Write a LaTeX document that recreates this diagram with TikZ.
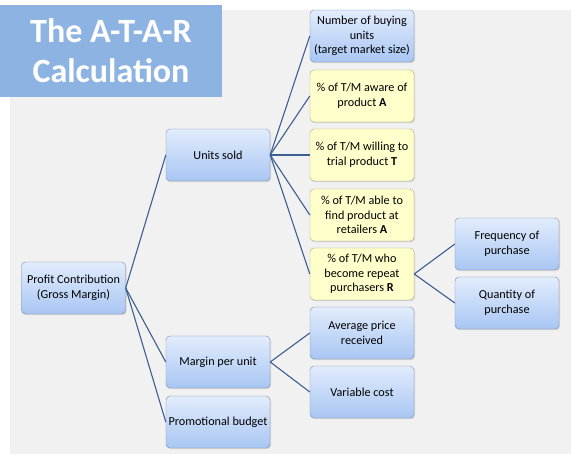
\documentclass[tikz,border=0pt]{standalone}
\usepackage{fontspec}
\setmainfont{Carlito}
\usepackage{tikz}
\usetikzlibrary{shadows}
\usepackage{xcolor}
\definecolor{panelgray}{RGB}{241,241,241}
\definecolor{titleblue}{RGB}{141,179,226}
\definecolor{boxtop}{RGB}{226,236,252}
\definecolor{boxbot}{RGB}{168,198,243}
\definecolor{boxline}{RGB}{120,140,170}
\definecolor{noteyellow}{RGB}{255,255,204}
\definecolor{noteline}{RGB}{170,170,130}
\definecolor{linkblue}{RGB}{60,95,145}

\begin{document}
\begin{tikzpicture}[x=1pt, y=-1pt,
  font=\fontsize{12.2}{14.5}\selectfont,
  box/.style={rectangle, draw=boxline, rounded corners=4pt,
    top color=boxtop, bottom color=boxbot, align=center,
    minimum width=104pt, minimum height=52pt, inner sep=0.5pt,
    drop shadow={opacity=0.25, shadow xshift=1pt, shadow yshift=-1.2pt}},
  note/.style={box, draw=noteline, top color=noteyellow, bottom color=noteyellow},
  link/.style={draw=linkblue, line width=1.1pt}]
% ---------------- page and title ----------------
\useasboundingbox (0,0) rectangle (571,454);
\fill[white] (0,0) rectangle (571,454);
\fill[panelgray] (10,10) rectangle (571,454);
\node[rectangle, fill=titleblue, minimum width=222pt, minimum height=92pt,
      text=white, align=center, font=\fontsize{34}{40}\selectfont\bfseries]
      (title) at (111,51) {The A-T-A-R\\Calculation};
% ---------------- tree ----------------
\node[box] (profit) at (73.5,288) {Profit Contribution\\(Gross Margin)};
\node[box] (units)  at (218,155) {Units sold};
\node[box] (margin) at (218,362) {Margin per unit};
\node[box] (promo)  at (218,422) {Promotional budget};
% units sold children
\node[box]  (buyers) at (362,36)  {Number of buying\\units\\(target market size)};
\node[note] (aware)  at (362,96)  {\% of T/M aware of\\product \textbf{A}};
\node[note] (trial)  at (362,155) {\% of T/M willing to\\trial product \textbf{T}};
\node[note] (avail)  at (362,215) {\% of T/M able to\\find product at\\retailers \textbf{A}};
\node[note] (repeat) at (362,274) {\% of T/M who\\become repeat\\purchasers \textbf{R}};
% margin children
\node[box] (price) at (362,333) {Average price\\received};
\node[box] (cost)  at (362,392) {Variable cost};
% repeat children
\node[box] (freq) at (507,244) {Frequency of\\purchase};
\node[box] (qty)  at (507,303) {Quantity of\\purchase};
% connectors
\foreach \c in {units,margin,promo}
  \draw[link] (profit.east) -- (\c.west);
\foreach \c in {buyers,aware,trial,avail,repeat}
  \draw[link] (units.east) -- (\c.west);
\foreach \c in {price,cost}
  \draw[link] (margin.east) -- (\c.west);
\foreach \c in {freq,qty}
  \draw[link] (repeat.east) -- (\c.west);
\end{tikzpicture}
\end{document}
